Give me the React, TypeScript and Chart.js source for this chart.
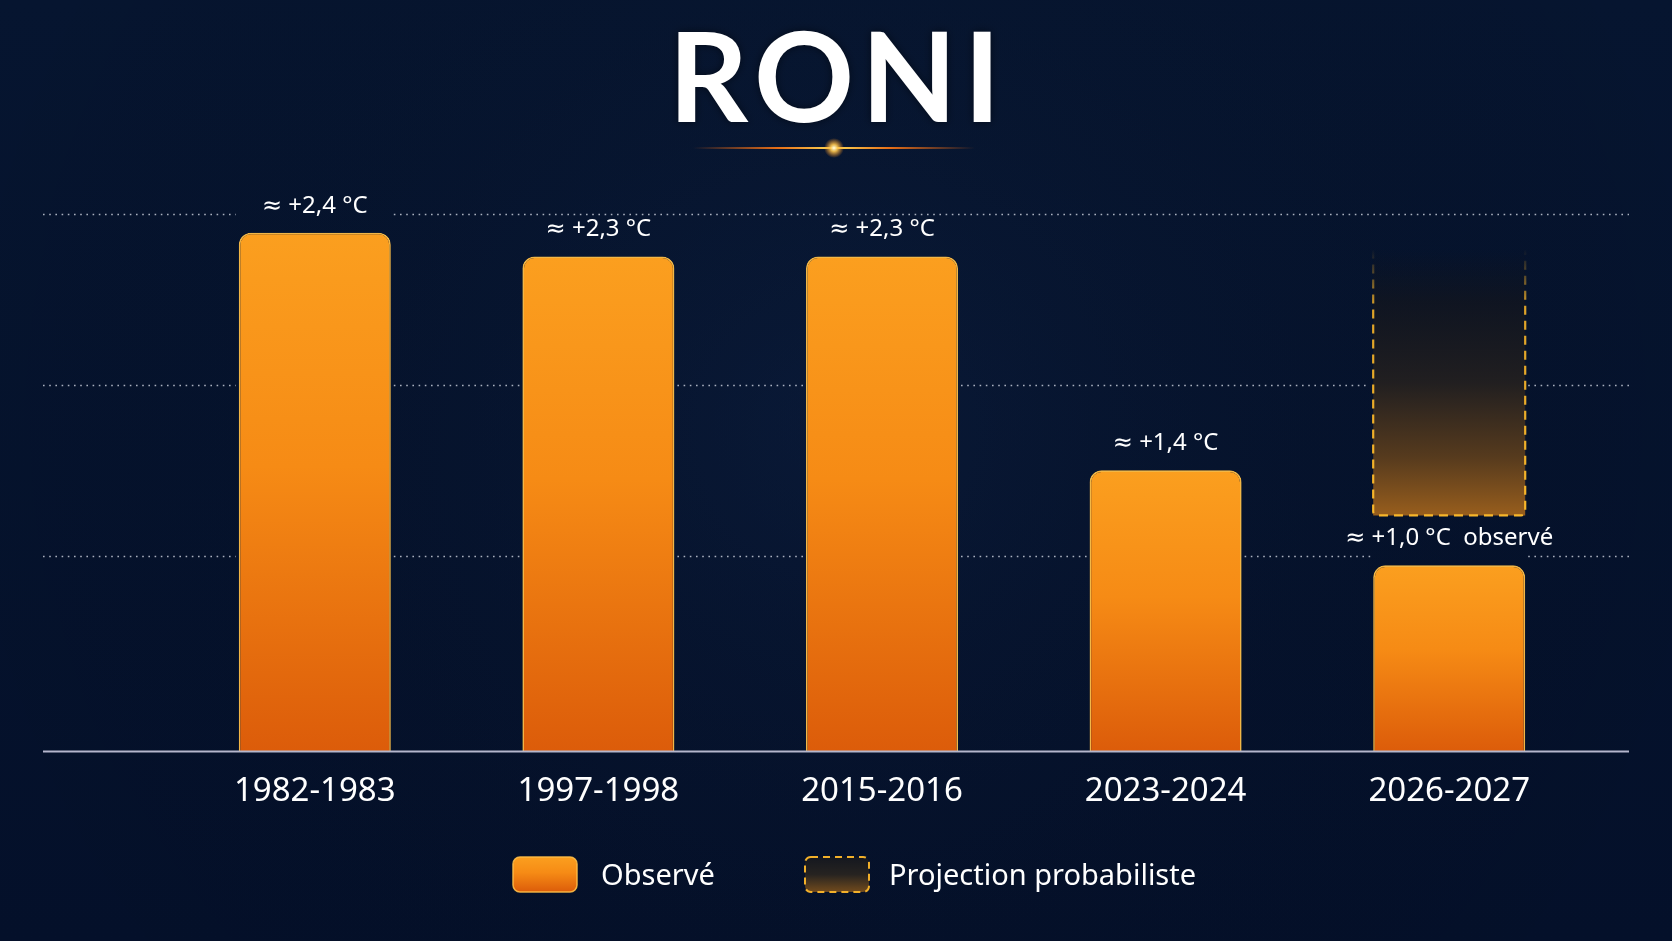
import React, { useEffect, useRef } from "react";
import { Chart, registerables } from "chart.js";

Chart.register(...registerables);

const categories = ["1982-1983", "1997-1998", "2015-2016", "2023-2024", "2026-2027"];
const observedValues = [2.4, 2.3, 2.3, 1.4, 1.0];
const projectionRange: ([number, number] | null)[] = [null, null, null, null, [1.21, 2.33]];
const valueLabels = ["≈ +2,4 °C", "≈ +2,3 °C", "≈ +2,3 °C", "≈ +1,4 °C", "≈ +1,0 °C  observé"];
const gridValues = [1.04, 1.76, 2.48];
const titleText = "RONI";
const legendLabels = ["Observé", "Projection probabiliste"];
const Y_MIN = 0.217;
const Y_MAX = 2.622;

const W = 1672;
const H = 941;
const FONT = "'Noto Sans', 'DejaVu Sans', sans-serif";

function orangeGradient(ctx: CanvasRenderingContext2D, top: number, bottom: number) {
  const g = ctx.createLinearGradient(0, top, 0, bottom);
  g.addColorStop(0, "#fb9f1f");
  g.addColorStop(0.45, "#f68b15");
  g.addColorStop(1, "#dc5c0a");
  return g;
}

function roundRectPath(ctx: CanvasRenderingContext2D, x: number, y: number, w: number, h: number, r: number) {
  ctx.beginPath();
  ctx.moveTo(x + r, y);
  ctx.lineTo(x + w - r, y);
  ctx.arcTo(x + w, y, x + w, y + r, r);
  ctx.lineTo(x + w, y + h - r);
  ctx.arcTo(x + w, y + h, x + w - r, y + h, r);
  ctx.lineTo(x + r, y + h);
  ctx.arcTo(x, y + h, x, y + h - r, r);
  ctx.lineTo(x, y + r);
  ctx.arcTo(x, y, x + r, y, r);
  ctx.closePath();
}

const decorPlugin = {
  id: "decor",
  beforeDraw(chart: any) {
    const ctx: CanvasRenderingContext2D = chart.ctx;
    ctx.save();
    // background
    const bg = ctx.createLinearGradient(0, 0, 0, H);
    bg.addColorStop(0, "#061530");
    bg.addColorStop(1, "#04102a");
    ctx.fillStyle = bg;
    ctx.fillRect(0, 0, W, H);
    const rg = ctx.createRadialGradient(W / 2, H * 0.45, 50, W / 2, H * 0.45, 900);
    rg.addColorStop(0, "rgba(20,40,75,0.25)");
    rg.addColorStop(1, "rgba(0,0,0,0)");
    ctx.fillStyle = rg;
    ctx.fillRect(0, 0, W, H);

    // title
    ctx.fillStyle = "#ffffff";
    ctx.font = `700 124px Lato, ${FONT}`;
    (ctx as any).letterSpacing = "7px";
    ctx.textAlign = "center";
    ctx.textBaseline = "alphabetic";
    ctx.shadowColor = "rgba(0,0,0,0.5)";
    ctx.shadowBlur = 8;
    ctx.fillText(titleText, 838, 122);
    ctx.shadowBlur = 0;
    (ctx as any).letterSpacing = "0px";

    // glow line
    const lg = ctx.createLinearGradient(693, 0, 975, 0);
    lg.addColorStop(0, "rgba(255,110,20,0)");
    lg.addColorStop(0.3, "rgba(255,120,20,0.9)");
    lg.addColorStop(0.5, "rgba(255,220,90,1)");
    lg.addColorStop(0.7, "rgba(255,120,20,0.9)");
    lg.addColorStop(1, "rgba(255,110,20,0)");
    ctx.strokeStyle = lg;
    ctx.lineWidth = 2;
    ctx.beginPath();
    ctx.moveTo(693, 148);
    ctx.lineTo(975, 148);
    ctx.stroke();
    const dot = ctx.createRadialGradient(834, 148, 0, 834, 148, 10);
    dot.addColorStop(0, "rgba(255,255,230,1)");
    dot.addColorStop(0.35, "rgba(255,200,80,0.9)");
    dot.addColorStop(1, "rgba(255,140,20,0)");
    ctx.fillStyle = dot;
    ctx.beginPath();
    ctx.arc(834, 148, 10, 0, Math.PI * 2);
    ctx.fill();

    // gridlines (dotted), interrupted over bar columns
    const ys = chart.scales.y;
    const cols: { l: number; r: number; top: number; bottom: number }[] = [];
    [0, 1].forEach((di) => {
      const meta = chart.getDatasetMeta(di);
      meta.data.forEach((el: any, i: number) => {
        const raw = di === 0 ? observedValues[i] : projectionRange[i];
        if (raw == null) return;
        const p = el.getProps(["x", "y", "base", "width"], true);
        cols.push({ l: p.x - p.width / 2 - 3, r: p.x + p.width / 2 + 3, top: Math.min(p.y, p.base) - 24, bottom: Math.max(p.y, p.base) });
      });
    });
    ctx.strokeStyle = "rgba(225,230,240,0.75)";
    ctx.lineWidth = 1.6;
    ctx.setLineDash([1.6, 4.6]);
    gridValues.forEach((v) => {
      const y = Math.round(ys.getPixelForValue(v)) + 0.5;
      const skips = cols.filter((c) => y >= c.top && y <= c.bottom).sort((a, b) => a.l - b.l);
      let x = 43;
      const segs: [number, number][] = [];
      skips.forEach((c) => {
        if (c.l > x) segs.push([x, c.l]);
        x = Math.max(x, c.r);
      });
      if (x < 1629) segs.push([x, 1629]);
      segs.forEach(([a, b]) => {
        ctx.beginPath();
        ctx.moveTo(a, y);
        ctx.lineTo(b, y);
        ctx.stroke();
      });
    });
    ctx.setLineDash([]);
    ctx.restore();
  },
  afterDatasetsDraw(chart: any) {
    const ctx: CanvasRenderingContext2D = chart.ctx;
    const ys = chart.scales.y;
    ctx.save();

    // projection dashed border
    const pmeta = chart.getDatasetMeta(1);
    pmeta.data.forEach((el: any, i: number) => {
      if (projectionRange[i] == null) return;
      const p = el.getProps(["x", "y", "base", "width"], true);
      const left = p.x - p.width / 2;
      const right = p.x + p.width / 2;
      const top = Math.min(p.y, p.base);
      const bottom = Math.max(p.y, p.base);
      const sg = ctx.createLinearGradient(0, top, 0, bottom);
      sg.addColorStop(0, "rgba(245,178,40,0)");
      sg.addColorStop(0.1, "rgba(245,178,40,0.35)");
      sg.addColorStop(0.22, "rgba(245,178,40,0.9)");
      sg.addColorStop(1, "rgba(248,182,42,1)");
      ctx.strokeStyle = sg;
      ctx.lineWidth = 2.2;
      ctx.setLineDash([9, 6]);
      const r = 4;
      ctx.beginPath();
      ctx.moveTo(left, top);
      ctx.lineTo(left, bottom - r);
      ctx.arcTo(left, bottom, left + r, bottom, r);
      ctx.lineTo(right - r, bottom);
      ctx.arcTo(right, bottom, right, bottom - r, r);
      ctx.lineTo(right, top);
      ctx.stroke();
      ctx.setLineDash([]);
    });

    // baseline
    const by = Math.round(ys.getPixelForValue(Y_MIN)) + 0.5;
    ctx.strokeStyle = "#b4b6cc";
    ctx.lineWidth = 1.8;
    ctx.beginPath();
    ctx.moveTo(43, by);
    ctx.lineTo(1629, by);
    ctx.stroke();

    // value labels
    const ometa = chart.getDatasetMeta(0);
    ctx.fillStyle = "#ffffff";
    ctx.font = `400 24px ${FONT}`;
    ctx.textAlign = "center";
    ctx.textBaseline = "middle";
    ometa.data.forEach((el: any, i: number) => {
      const p = el.getProps(["x", "y"], true);
      ctx.fillText(valueLabels[i], p.x, p.y - 27);
    });

    // legend
    const bx1 = 513, by1 = 857, bw = 64, bh = 35;
    roundRectPath(ctx, bx1, by1, bw, bh, 7);
    ctx.fillStyle = orangeGradient(ctx, by1, by1 + bh);
    ctx.fill();
    ctx.strokeStyle = "rgba(255,190,70,0.9)";
    ctx.lineWidth = 1.5;
    ctx.stroke();

    const bx2 = 805;
    roundRectPath(ctx, bx2, by1, bw, bh, 6);
    const pg = ctx.createLinearGradient(0, by1, 0, by1 + bh);
    pg.addColorStop(0, "rgba(22,24,30,0.9)");
    pg.addColorStop(0.5, "rgba(40,36,32,0.95)");
    pg.addColorStop(1, "rgba(120,78,28,0.95)");
    ctx.fillStyle = pg;
    ctx.fill();
    ctx.strokeStyle = "#f2b02a";
    ctx.lineWidth = 2;
    ctx.setLineDash([7, 5]);
    ctx.stroke();
    ctx.setLineDash([]);

    ctx.fillStyle = "#ffffff";
    ctx.font = `400 29px ${FONT}`;
    ctx.textAlign = "left";
    ctx.textBaseline = "middle";
    ctx.fillText(legendLabels[0], 601, 877);
    ctx.fillText(legendLabels[1], 889, 877);

    ctx.restore();
  },
};

export default function App() {
  const canvasRef = useRef<HTMLCanvasElement | null>(null);

  useEffect(() => {
    document.body.style.margin = "0";
    document.body.style.overflow = "hidden";
    document.body.style.background = "#05122b";
    const canvas = canvasRef.current;
    if (!canvas) return;

    const chart = new Chart(canvas, {
      type: "bar",
      data: {
        labels: categories,
        datasets: [
          {
            label: legendLabels[0],
            data: observedValues,
            grouped: false,
            order: 2,
            backgroundColor: (c: any) => {
              const ch = c.chart;
              if (!ch.chartArea || typeof c.dataIndex !== "number") return "#f58a15";
              const ysc = ch.scales.y;
              const top = ysc.getPixelForValue(observedValues[c.dataIndex]);
              const bottom = ysc.getPixelForValue(Y_MIN);
              return orangeGradient(ch.ctx, top, bottom);
            },
            borderColor: "rgba(255,192,72,0.95)",
            borderWidth: 1.6,
            borderSkipped: "start",
            borderRadius: { topLeft: 12, topRight: 12, bottomLeft: 0, bottomRight: 0 },
            barPercentage: 0.536,
            categoryPercentage: 1,
          } as any,
          {
            label: legendLabels[1],
            data: projectionRange as any,
            grouped: false,
            order: 1,
            backgroundColor: (c: any) => {
              const ch = c.chart;
              if (!ch.chartArea || typeof c.dataIndex !== "number") return "rgba(0,0,0,0)";
              const rng = projectionRange[c.dataIndex];
              if (!rng) return "rgba(0,0,0,0)";
              const ysc = ch.scales.y;
              const top = ysc.getPixelForValue(rng[1]);
              const bottom = ysc.getPixelForValue(rng[0]);
              const g = ch.ctx.createLinearGradient(0, top, 0, bottom);
              g.addColorStop(0, "rgba(18,20,26,0)");
              g.addColorStop(0.2, "rgba(22,22,26,0.6)");
              g.addColorStop(0.5, "rgba(38,33,30,0.85)");
              g.addColorStop(0.78, "rgba(95,63,28,0.9)");
              g.addColorStop(1, "rgba(160,98,28,0.95)");
              return g;
            },
            borderWidth: 0,
            borderSkipped: false,
            barPercentage: 0.536,
            categoryPercentage: 1,
          } as any,
        ],
      },
      options: {
        responsive: false,
        animation: false,
        devicePixelRatio: 1,
        layout: { padding: { left: 173, right: 81, top: 180, bottom: 110 } },
        plugins: {
          legend: { display: false },
          title: { display: false },
          tooltip: { enabled: false },
        },
        scales: {
          x: {
            offset: true,
            grid: { display: false, drawTicks: false },
            border: { display: false },
            ticks: {
              color: "#ffffff",
              font: { family: FONT, size: 33, weight: "normal" },
              padding: 20,
              maxRotation: 0,
              autoSkip: false,
            },
          },
          y: {
            display: false,
            min: Y_MIN,
            max: Y_MAX,
          },
        },
      } as any,
      plugins: [decorPlugin],
    });

    return () => {
      chart.destroy();
    };
  }, []);

  return (
    <div style={{ position: "absolute", left: 0, top: 0, width: W, height: H, overflow: "hidden" }}>
      <canvas ref={canvasRef} width={W} height={H} style={{ display: "block", width: W, height: H }} />
    </div>
  );
}
